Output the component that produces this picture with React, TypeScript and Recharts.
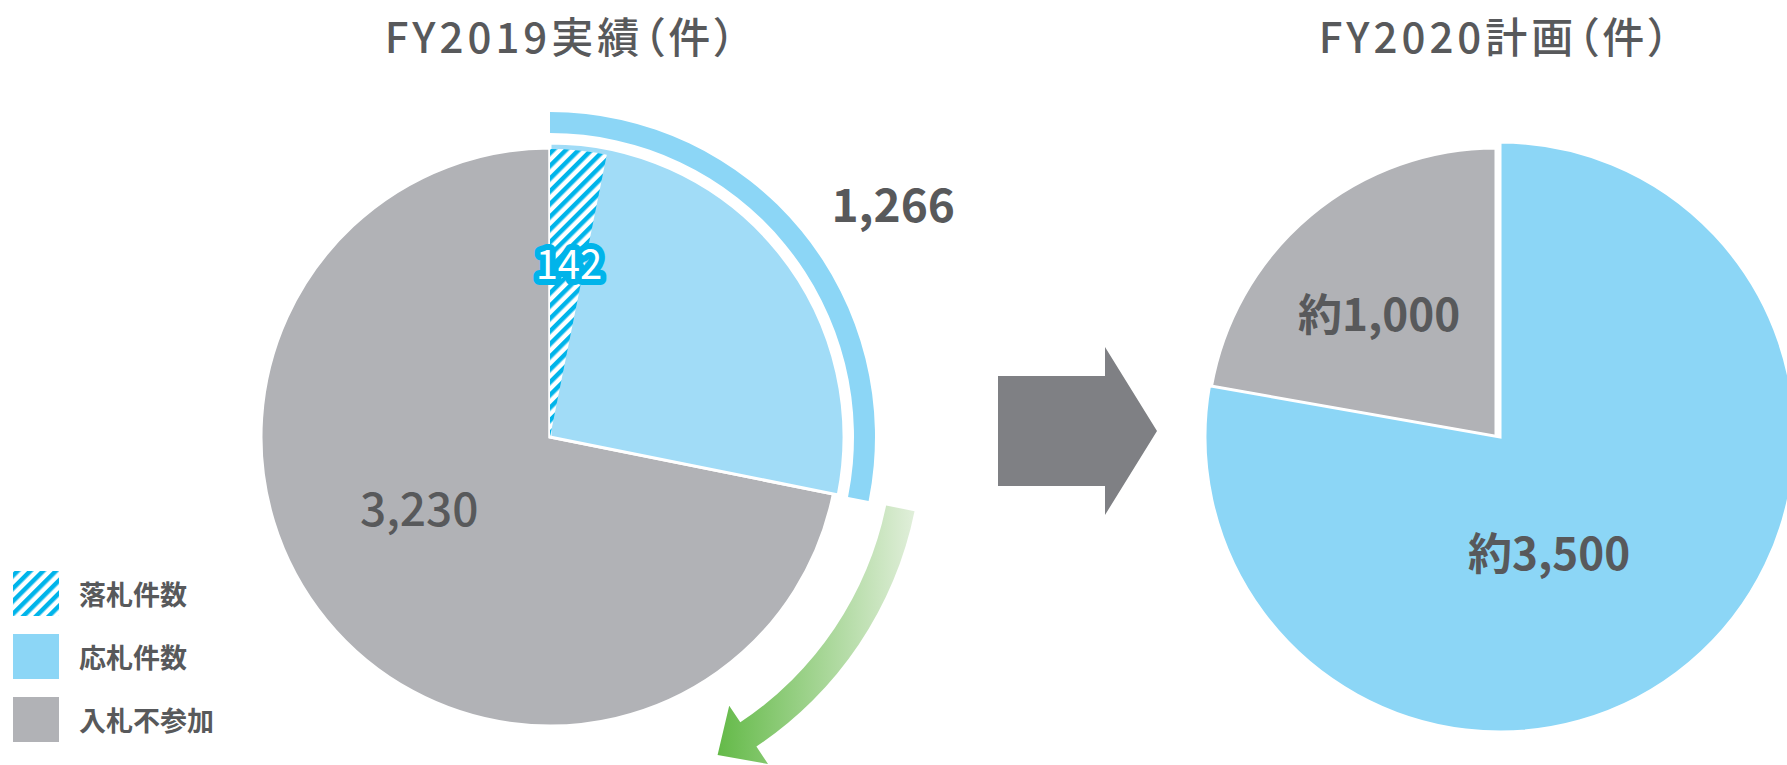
import { Cell, Pie, PieChart } from 'recharts';

const W = 1787;
const H = 765;

const TITLES = ['FY2019実績（件）', 'FY2020計画（件）'];
const FY2019_NAMES = ['応札件数', '入札不参加'];
const FY2019_VALUES = [1266, 3230];
const WON_NAME = '落札件数';
const WON_VALUE = 142;
const FY2020_NAMES = ['応札件数', '入札不参加'];
const FY2020_VALUES = [3500, 1000];
const LEGEND_LABELS = ['落札件数', '応札件数', '入札不参加'];

const GRAY = '#b1b2b6';
const BLUE_SOFT = '#a1dcf7';
const BLUE = '#8cd6f6';
const CYAN = '#00b4ea';
const TEXT = '#58595b';
const FONT = '"Noto Sans CJK JP", "Noto Sans", sans-serif';

const LEFT = { cx: 550, cy: 437 };
const RIGHT = { cx: 1498, cy: 437 };

const fy2019 = FY2019_NAMES.map((name, i) => ({ name, value: FY2019_VALUES[i] }));
const total2019 = FY2019_VALUES.reduce((a, b) => a + b, 0);
const won = [
  { name: WON_NAME, value: WON_VALUE },
  { name: 'rest', value: total2019 - WON_VALUE },
];
const fy2020 = FY2020_NAMES.map((name, i) => ({ name, value: FY2020_VALUES[i] }));

type LabelSpec = { r: number; shift: number; size: number; weight: number; prefix?: string; badge?: boolean };

function makeLabel(specs: (LabelSpec | null)[]) {
  return (p: any) => {
    const spec = specs[p.index];
    if (!spec) return null;
    const mid = p.midAngle ?? (p.startAngle + p.endAngle) / 2;
    const a = ((mid + spec.shift) * Math.PI) / 180;
    const x = p.cx + spec.r * Math.cos(a);
    const y = p.cy - spec.r * Math.sin(a);
    const txt = (spec.prefix ?? '') + Number(p.value).toLocaleString('en-US');
    if (spec.badge) {
      return (
        <text x={x} y={y} textAnchor="middle" dominantBaseline="central" fontFamily={FONT} fontSize={spec.size}
          fontWeight={spec.weight} fill="#fff" stroke={CYAN} strokeWidth={12} strokeLinejoin="round"
          style={{ paintOrder: 'stroke' }}>
          {txt}
        </text>
      );
    }
    return (
      <text x={x} y={y} textAnchor="middle" dominantBaseline="central" fontFamily={FONT} fontSize={spec.size}
        fontWeight={spec.weight} fill={TEXT}>
        {txt}
      </text>
    );
  };
}

const pt = (cx: number, cy: number, r: number, deg: number) => {
  const a = (deg * Math.PI) / 180;
  return [cx + r * Math.cos(a), cy + r * Math.sin(a)];
};

function greenArrowPath() {
  const { cx, cy } = LEFT;
  const a0 = 11.5;
  const a1 = 56.3;
  const oT = pt(cx, cy, 372, a0);
  const oE = pt(cx, cy, 372, a1);
  const hO = pt(cx, cy, 393, a1);
  const mid = pt(cx, cy, 357.5, a1);
  const rad = (a1 * Math.PI) / 180;
  const tip = [mid[0] - 37 * Math.sin(rad), mid[1] + 37 * Math.cos(rad)];
  const hI = pt(cx, cy, 323, a1);
  const iE = pt(cx, cy, 343, a1);
  const iT = pt(cx, cy, 343, a0);
  return `M${oT} A372 372 0 0 1 ${oE} L${hO} L${tip} L${hI} L${iE} A343 343 0 0 0 ${iT} Z`;
}

function Overlay() {
  const legendFills = ['url(#hatch)', BLUE, GRAY];
  return (
    <svg width={W} height={H} style={{ position: 'absolute', left: 0, top: 0, pointerEvents: 'none' }}>
      <defs>
        <pattern id="hatch" patternUnits="userSpaceOnUse" width="9" height="9" patternTransform="rotate(45)">
          <rect width="9" height="9" fill="#fff" />
          <rect width="4.5" height="9" fill={CYAN} />
        </pattern>
        <linearGradient id="greenArrow" gradientUnits="userSpaceOnUse" x1="715" y1="0" x2="920" y2="0">
          <stop offset="0%" stopColor="#62b946" />
          <stop offset="100%" stopColor="#e4f0de" />
        </linearGradient>
      </defs>
      {TITLES.map((t, i) => (
        <text key={t} x={i === 0 ? 562 : 1496} y={34} textAnchor="middle" dominantBaseline="central"
          fontFamily={FONT} fontSize={42} fontWeight={500} fill={TEXT} letterSpacing={4}
          style={{ fontFeatureSettings: '"palt"' }}>
          {t}
        </text>
      ))}
      <polygon points="998,376 1105,376 1105,347 1157,431 1105,515 1105,486 998,486" fill="#7f8084" />
      <path d={greenArrowPath()} fill="url(#greenArrow)" />
      {LEGEND_LABELS.map((l, i) => (
        <g key={l}>
          <rect x={13} y={571 + i * 63} width={46} height={45} fill={legendFills[i]} />
          <text x={79} y={593.5 + i * 63} dominantBaseline="central" fontFamily={FONT} fontSize={27}
            fontWeight={700} fill={TEXT}>
            {l}
          </text>
        </g>
      ))}
    </svg>
  );
}

export default function App() {
  const common = { dataKey: 'value', startAngle: 90, endAngle: -270, isAnimationActive: false, labelLine: false };
  return (
    <div style={{ position: 'absolute', left: 0, top: 0, width: W, height: H, background: '#fff', overflow: 'hidden' }}>
      <Overlay />
      <PieChart width={W} height={H} margin={{ top: 0, right: 0, bottom: 0, left: 0 }}>
        {/* FY2019 */}
        <Pie {...common} data={fy2019} cx={LEFT.cx} cy={LEFT.cy} outerRadius={289}
          label={makeLabel([null, { r: 148, shift: -11.4, size: 46, weight: 500 }])}>
          <Cell fill="transparent" stroke="none" />
          <Cell fill={GRAY} stroke="#fff" strokeWidth={3} />
        </Pie>
        <Pie {...common} data={fy2019} cx={LEFT.cx} cy={LEFT.cy} outerRadius={294} label={false}>
          <Cell fill={BLUE_SOFT} stroke="#fff" strokeWidth={3} />
          <Cell fill="transparent" stroke="none" />
        </Pie>
        <Pie {...common} data={won} cx={LEFT.cx} cy={LEFT.cy} outerRadius={288}
          label={makeLabel([{ r: 176, shift: -0.5, size: 40, weight: 400, badge: true }, null])}>
          <Cell fill="url(#hatch)" stroke="none" />
          <Cell fill="transparent" stroke="none" />
        </Pie>
        <Pie {...common} data={fy2019} cx={LEFT.cx} cy={LEFT.cy} innerRadius={304} outerRadius={325}
          label={makeLabel([{ r: 416, shift: -4.9, size: 46, weight: 700 }, null])}>
          <Cell fill={BLUE} stroke="none" />
          <Cell fill="transparent" stroke="none" />
        </Pie>
        {/* FY2020 */}
        <Pie {...common} data={fy2020} cx={RIGHT.cx - 2} cy={RIGHT.cy} outerRadius={289}
          label={makeLabel([null, { r: 171, shift: 3.1, size: 44, weight: 700, prefix: '約' }])}>
          <Cell fill="transparent" stroke="none" />
          <Cell fill={GRAY} stroke="#fff" strokeWidth={3} />
        </Pie>
        <Pie {...common} data={fy2020} cx={RIGHT.cx + 2} cy={RIGHT.cy} outerRadius={295}
          label={makeLabel([{ r: 124, shift: -16.7, size: 44, weight: 700, prefix: '約' }, null])}>
          <Cell fill={BLUE} stroke="#fff" strokeWidth={3} />
          <Cell fill="transparent" stroke="none" />
        </Pie>
      </PieChart>
    </div>
  );
}
